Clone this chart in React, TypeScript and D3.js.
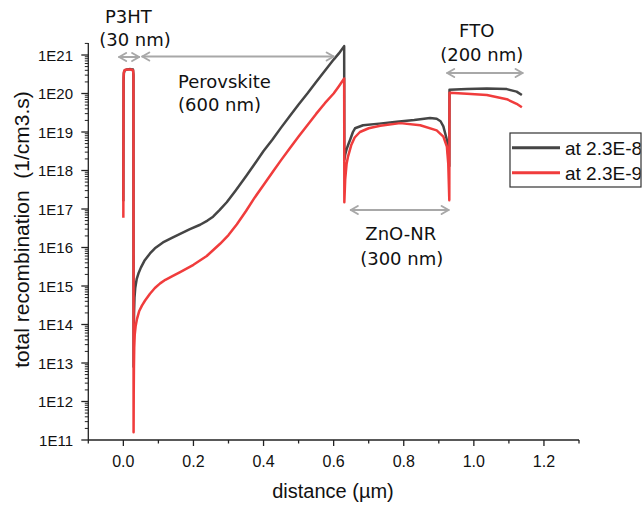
import React from 'react';
import * as d3 from 'd3';

const W = 642;
const H = 505;

// ---- data ----
const xTickValues = [0, 0.2, 0.4, 0.6, 0.8, 1.0, 1.2];
const xTickLabels = ['0.0', '0.2', '0.4', '0.6', '0.8', '1.0', '1.2'];
const xMinorValues = [-0.1, 0.1, 0.3, 0.5, 0.7, 0.9, 1.1, 1.3];
const yTickExponents = [11, 12, 13, 14, 15, 16, 17, 18, 19, 20, 21];
const yTickLabels = ['1E11', '1E12', '1E13', '1E14', '1E15', '1E16', '1E17', '1E18', '1E19', '1E20', '1E21'];

const seriesNames = ['at 2.3E-8 s', 'at 2.3E-9 s'];

const blackX = [
  0.0, 0.0006, 0.0015, 0.004, 0.01, 0.02, 0.0275, 0.0288, 0.0292, 0.0298, 0.0305, 0.0318, 0.034, 0.038, 0.043,
  0.05, 0.06, 0.076, 0.09, 0.113, 0.14, 0.162, 0.19, 0.219, 0.24, 0.256, 0.275, 0.295, 0.32, 0.35, 0.375,
  0.4, 0.425, 0.45, 0.475, 0.5, 0.525, 0.55, 0.575, 0.6, 0.615, 0.63, 0.6305, 0.633, 0.637, 0.642, 0.647,
  0.655, 0.661, 0.684, 0.73, 0.78, 0.83, 0.875, 0.894, 0.905, 0.913, 0.923, 0.927, 0.93, 0.9305, 0.98,
  1.037, 1.094, 1.122, 1.137,
];
const blackY = [
  1.6e17, 2.0e20, 3.4e20, 4.0e20, 4.2e20, 4.3e20, 4.2e20, 3.0e20, 8e12, 5e13, 2e14, 5e14, 9e14, 1.5e15, 2.1e15,
  3.0e15, 4.5e15, 7.0e15, 9.5e15, 1.35e16, 1.8e16, 2.25e16, 3.0e16, 3.9e16, 5.0e16, 6.3e16, 9.5e16, 1.5e17, 3.0e17, 7.1e17, 1.5e18,
  3.2e18, 6.3e18, 1.3e19, 2.6e19, 5.2e19, 1.0e20, 2.0e20, 3.9e20, 7.6e20, 1.1e21, 1.7e21, 1.9e18, 2.6e18, 3.6e18, 4.8e18, 6.3e18,
  1.0e19, 1.25e19, 1.5e19, 1.65e19, 1.85e19, 2.05e19, 2.3e19, 2.2e19, 1.9e19, 1.4e19, 6.3e18, 2.5e18, 1.3e18, 1.25e20, 1.3e20,
  1.35e20, 1.3e20, 1.12e20, 9.1e19,
];

const redX = [
  0.0, 0.0005, 0.0015, 0.004, 0.012, 0.022, 0.0278, 0.0288, 0.0292, 0.0296, 0.0302, 0.031, 0.0325, 0.035, 0.039,
  0.045, 0.053, 0.062, 0.076, 0.09, 0.105, 0.12, 0.14, 0.162, 0.2, 0.238, 0.276, 0.3, 0.324, 0.35, 0.375,
  0.4, 0.425, 0.45, 0.475, 0.5, 0.525, 0.55, 0.575, 0.6, 0.615, 0.63, 0.6305, 0.633, 0.637, 0.641, 0.65,
  0.66, 0.675, 0.7, 0.733, 0.79, 0.847, 0.894, 0.913, 0.923, 0.927, 0.93, 0.9305, 0.98, 1.037, 1.094,
  1.122, 1.137,
];
const redY = [
  5.9e16, 2.5e20, 3.6e20, 4.1e20, 4.2e20, 4.2e20, 4.0e20, 3.0e20, 1.6e11, 1.5e12, 8e12, 2.5e13, 5.5e13, 9e13, 1.4e14,
  2.2e14, 3.1e14, 4.2e14, 6.3e14, 8.9e14, 1.17e15, 1.45e15, 1.8e15, 2.3e15, 3.55e15, 6.0e15, 1.25e16, 2.1e16, 4.0e16, 8.9e16, 2.0e17,
  4.2e17, 8.9e17, 1.86e18, 3.8e18, 7.6e18, 1.5e19, 2.95e19, 5.6e19, 1.0e20, 1.55e20, 2.45e20, 1.5e17, 6e17, 1.5e18, 2.3e18, 4.5e18,
  7.2e18, 1.0e19, 1.25e19, 1.45e19, 1.7e19, 1.5e19, 1.1e19, 7.6e18, 4.2e18, 1.5e18, 1.7e17, 1.05e20, 9.9e19, 9.1e19, 7.1e19,
  5.4e19, 4.4e19,
];

// ---- layout ----
const X0 = 88.3;
const X1 = 579;
const YB = 440;
const YT = 43;
const BLACK = '#454545';
const RED = '#f03c3c';
const GRAY = '#a8a8a8';
const AXIS = '#222';

const x = d3.scaleLinear().domain([-0.1, 1.3]).range([X0, X1]);
const y = d3.scaleLog().domain([1e11, 2.05e21]).range([YB, YT]);

const line = d3
  .line<[number, number]>()
  .x((d) => x(d[0]))
  .y((d) => y(d[1]))
  .curve(d3.curveLinear);

const blackPts = blackX.map((v, i) => [v, blackY[i]] as [number, number]);
const redPts = redX.map((v, i) => [v, redY[i]] as [number, number]);

const yMinor: number[] = [];
for (let e = 11; e <= 21; e++) {
  for (let m = 2; m <= 9; m++) {
    const v = m * Math.pow(10, e);
    if (v <= 2.05e21) yMinor.push(v);
  }
}

function DoubleArrow({ x1, x2, yy }: { x1: number; x2: number; yy: number }) {
  const a = 7;
  const b = 4;
  return (
    <g stroke={GRAY} strokeWidth={2} fill="none" strokeLinecap="round" strokeLinejoin="round">
      <line x1={x1} y1={yy} x2={x2} y2={yy} />
      <path d={`M${x1 + a},${yy - b} L${x1},${yy} L${x1 + a},${yy + b}`} />
      <path d={`M${x2 - a},${yy - b} L${x2},${yy} L${x2 - a},${yy + b}`} />
    </g>
  );
}

const annFont = "'DejaVu Sans', Verdana, sans-serif";
const axFont = "'Liberation Sans', Arial, sans-serif";

export default function App() {
  return (
    <div style={{ position: 'absolute', left: 0, top: 0, width: W, height: H, background: '#fff' }}>
      <svg width={W} height={H} viewBox={`0 0 ${W} ${H}`} style={{ display: 'block' }}>
        <defs>
          <clipPath id="legclip">
            <rect x={510} y={133} width={130.5} height={54} />
          </clipPath>
        </defs>
        <rect x={0} y={0} width={W} height={H} fill="#fff" />

        {/* curves */}
        <path d={line(blackPts) || ''} fill="none" stroke={BLACK} strokeWidth={2.5} strokeLinejoin="round" />
        <path d={line(redPts) || ''} fill="none" stroke={RED} strokeWidth={2.5} strokeLinejoin="round" />

        {/* axes */}
        <g stroke={AXIS} strokeWidth={1.3} fill="none">
          <line x1={X0} y1={YT} x2={X0} y2={YB} />
          <line x1={X0} y1={YB} x2={X1} y2={YB} />
          {xTickValues.map((v) => (
            <line key={'xt' + v} x1={x(v)} y1={YB} x2={x(v)} y2={YB + 6} />
          ))}
          {xMinorValues.map((v) => (
            <line key={'xm' + v} x1={x(v)} y1={YB} x2={x(v)} y2={YB + 3.5} />
          ))}
          {yTickExponents.map((e) => (
            <line key={'yt' + e} x1={X0 - 7} y1={y(Math.pow(10, e))} x2={X0} y2={y(Math.pow(10, e))} />
          ))}
          {yMinor.map((v, i) => (
            <line key={'ym' + i} x1={X0 - 3.5} y1={y(v)} x2={X0} y2={y(v)} strokeWidth={1} />
          ))}
        </g>
        <g fontFamily={axFont} fontSize={16} fill="#111">
          {xTickValues.map((v, i) => (
            <text key={'xl' + v} x={x(v)} y={467} textAnchor="middle">
              {xTickLabels[i]}
            </text>
          ))}
        </g>
        <g fontFamily={axFont} fontSize={15} fill="#111">
          {yTickExponents.map((e, i) => (
            <text key={'yl' + e} x={73} y={y(Math.pow(10, e))} textAnchor="end" dominantBaseline="central">
              {yTickLabels[i]}
            </text>
          ))}
        </g>
        <text x={333} y={498} textAnchor="middle" fontFamily={axFont} fontSize={20} fill="#111">
          distance (µm)
        </text>
        <text
          transform="translate(29,229.5) rotate(-90)"
          textAnchor="middle"
          fontFamily={axFont}
          fontSize={21}
          fill="#111"
          style={{ whiteSpace: 'pre' }}
        >
          {'total recombination  (1/cm3.s)'}
        </text>

        {/* annotations */}
        <DoubleArrow x1={x(-0.012)} x2={x(0.045)} yy={57} />
        <DoubleArrow x1={x(0.054)} x2={x(0.6)} yy={56.5} />
        <DoubleArrow x1={x(0.649)} x2={x(0.928)} yy={210} />
        <DoubleArrow x1={x(0.924)} x2={x(1.139)} yy={73} />
        <g fontFamily={annFont} fontSize={18} fill="#111">
          <text x={128.3} y={23} textAnchor="middle">P3HT</text>
          <text x={135} y={46} textAnchor="middle">(30 nm)</text>
          <text x={178} y={88}>Perovskite</text>
          <text x={178} y={111}>(600 nm)</text>
          <text x={400.8} y={240} textAnchor="middle">ZnO-NR</text>
          <text x={401.7} y={264.5} textAnchor="middle">(300 nm)</text>
          <text x={476.7} y={36.7} textAnchor="middle">FTO</text>
          <text x={481.7} y={60.5} textAnchor="middle">(200 nm)</text>
        </g>

        {/* legend */}
        <rect x={510} y={133} width={131} height={54} fill="#fff" stroke="#333" strokeWidth={1.2} />
        <line x1={512} y1={147.7} x2={560} y2={147.7} stroke={BLACK} strokeWidth={3} />
        <line x1={512} y1={172.7} x2={560} y2={172.7} stroke={RED} strokeWidth={3} />
        <g clipPath="url(#legclip)" fontFamily={axFont} fontSize={19} fill="#111">
          <text x={565} y={155}>{seriesNames[0]}</text>
          <text x={565} y={180}>{seriesNames[1]}</text>
        </g>
      </svg>
    </div>
  );
}
